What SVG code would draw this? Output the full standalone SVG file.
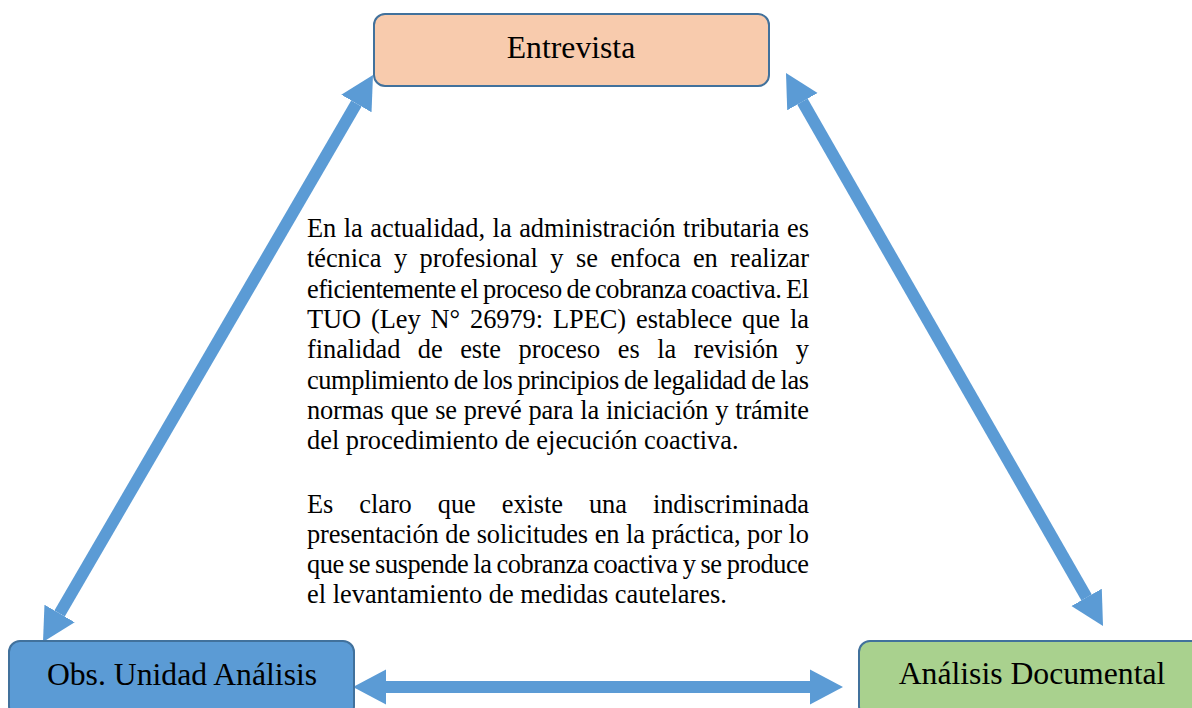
<svg xmlns="http://www.w3.org/2000/svg" width="1192" height="708" viewBox="0 0 1192 708">
  <defs>
    <marker id="head" markerUnits="userSpaceOnUse" markerWidth="34" markerHeight="36" refX="0" refY="17.5" orient="auto-start-reverse" viewBox="0 0 34 35">
      <path d="M0,0 L33,17.5 L0,35 Z" fill="#5B9BD5"/>
    </marker>
  </defs>
  <style>
    .box { stroke: #41719C; stroke-width: 2; }
    .lbl { font-family: "Liberation Serif", "Times New Roman", serif; font-size: 31.7px; fill: #000; text-anchor: middle; }
    .body { font-family: "Liberation Serif", "Times New Roman", serif; font-size: 26.4px; fill: #000; }
    .conn { stroke: #5B9BD5; stroke-width: 12; fill: none; marker-start: url(#head); marker-end: url(#head); }
  </style>
  <rect width="1192" height="708" fill="#ffffff"/>

  <g id="connectors">
    <line class="conn" x1="356.4" y1="103.5" x2="59.6" y2="613.5"/>
    <line class="conn" x1="802.4" y1="101.6" x2="1086.6" y2="597.4"/>
    <line class="conn" x1="386" y1="687" x2="810" y2="687"/>
  </g>

  <g id="entrevista">
    <rect class="box" x="374" y="14" width="395" height="72" rx="11" fill="#F8CBAD"/>
    <text class="lbl" x="571" y="58">Entrevista</text>
  </g>

  <g id="obs-unidad">
    <rect class="box" x="9" y="641" width="345" height="76" rx="11" fill="#5B9BD5"/>
    <text class="lbl" x="182" y="685">Obs. Unidad Análisis</text>
  </g>

  <g id="analisis-documental">
    <rect class="box" x="859" y="641" width="346" height="76" rx="11" fill="#A9D18E"/>
    <text class="lbl" x="1032" y="684">Análisis Documental</text>
  </g>

  <g id="texto-central">
    <text class="body" x="307" y="237" word-spacing="1" textLength="502" lengthAdjust="spacing">En la actualidad, la administración tributaria es</text>
    <text class="body" x="307" y="267" word-spacing="6" textLength="502" lengthAdjust="spacing">técnica y profesional y se enfoca en realizar</text>
    <text class="body" x="307" y="298" word-spacing="-1.5" textLength="502" lengthAdjust="spacing">eficientemente el proceso de cobranza coactiva. El</text>
    <text class="body" x="307" y="328" word-spacing="3.5" textLength="502" lengthAdjust="spacing">TUO (Ley N° 26979: LPEC) establece que la</text>
    <text class="body" x="307" y="358" word-spacing="11" textLength="502" lengthAdjust="spacing">finalidad de este proceso es la revisión y</text>
    <text class="body" x="307" y="389" word-spacing="-1" textLength="502" lengthAdjust="spacing">cumplimiento de los principios de legalidad de las</text>
    <text class="body" x="307" y="419" word-spacing="0.5" textLength="502" lengthAdjust="spacing">normas que se prevé para la iniciación y trámite</text>
    <text class="body" x="307" y="449">del procedimiento de ejecución coactiva.</text>
    <text class="body" x="307" y="513" word-spacing="19.5" textLength="502" lengthAdjust="spacing">Es claro que existe una indiscriminada</text>
    <text class="body" x="307" y="543" word-spacing="0.3" textLength="502" lengthAdjust="spacing">presentación de solicitudes en la práctica, por lo</text>
    <text class="body" x="307" y="573" word-spacing="-1" textLength="502" lengthAdjust="spacing">que se suspende la cobranza coactiva y se produce</text>
    <text class="body" x="307" y="603">el levantamiento de medidas cautelares.</text>
  </g>
</svg>
